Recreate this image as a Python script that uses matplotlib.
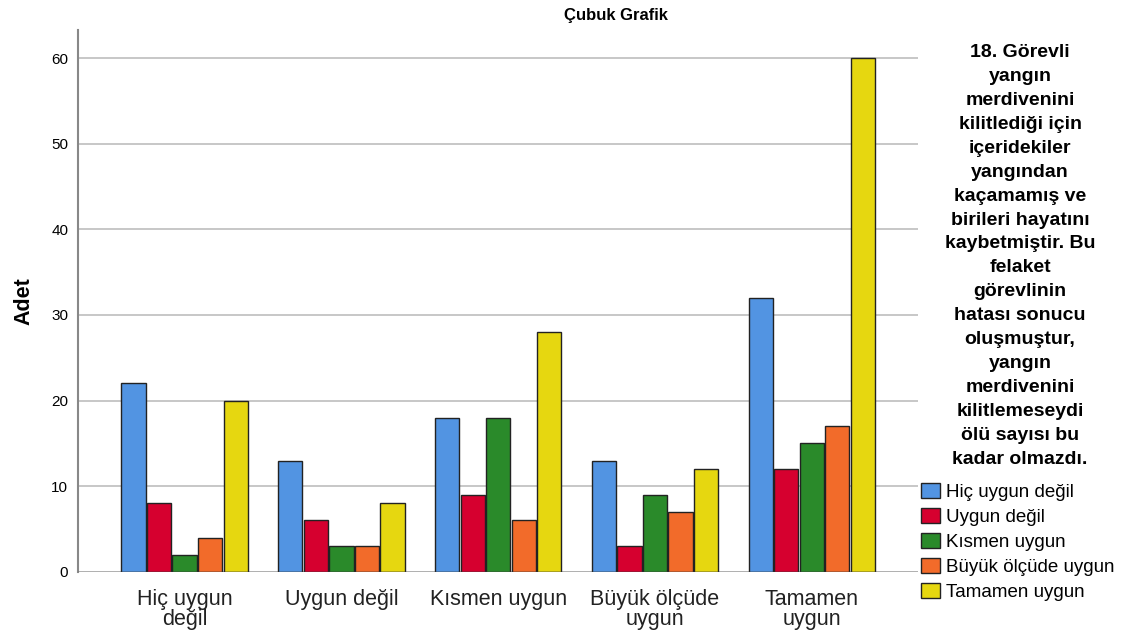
import numpy as np
import matplotlib.pyplot as plt

plt.rcParams['font.family'] = ['Liberation Sans', 'DejaVu Sans']

categories = ['Hiç uygun\ndeğil', 'Uygun değil', 'Kısmen uygun', 'Büyük ölçüde\nuygun', 'Tamamen\nuygun']
series_names = ['Hiç uygun değil', 'Uygun değil', 'Kısmen uygun', 'Büyük ölçüde uygun', 'Tamamen uygun']
values = [
    [22, 13, 18, 13, 32],   # Hiç uygun değil
    [8, 6, 9, 3, 12],       # Uygun değil
    [2, 3, 18, 9, 15],      # Kısmen uygun
    [4, 3, 6, 7, 17],       # Büyük ölçüde uygun
    [20, 8, 28, 12, 60],    # Tamamen uygun
]
colors = ['#5294e2', '#d6002f', '#2a8a2a', '#f26b2a', '#e6d710']
legend_title = ('18. Görevli\nyangın\nmerdivenini\nkilitlediği için\niçeridekiler\nyangından\n'
                'kaçamamış ve\nbirileri hayatını\nkaybetmiştir. Bu\nfelaket\ngörevlinin\n'
                'hatası sonucu\noluşmuştur,\nyangın\nmerdivenini\nkilitlemeseydi\nölü sayısı bu\n'
                'kadar olmazdı.')

fig = plt.figure(figsize=(11.31, 6.34), dpi=100)
ax = fig.add_axes([0.069, 0.098, 0.743, 0.855])

x = np.arange(len(categories))
step = 0.163
width = 0.155
for i, (name, vals) in enumerate(zip(series_names, values)):
    ax.bar(x + (i - 2) * step, vals, width, color=colors[i], edgecolor='#222222',
           linewidth=1, label=name, zorder=3)

ax.set_xlim(-0.68, 4.68)
ax.set_ylim(0, 63.3)
ax.set_yticks([0, 10, 20, 30, 40, 50, 60])
ax.yaxis.grid(True, color='#bdbdbd', linewidth=1.2, zorder=0)
ax.set_xticks(x)
ax.set_xticklabels(categories, fontsize=15.5, color='#222222', linespacing=0.95)
ax.tick_params(axis='x', length=0, pad=12)
ax.tick_params(axis='y', length=0, labelsize=11, pad=7)
for s in ['top', 'right', 'bottom']:
    ax.spines[s].set_visible(False)
ax.spines['left'].set_color('#888888')
ax.spines['left'].set_linewidth(1.5)
ax.axhline(0, color='#555555', linewidth=1, zorder=4)

ax.set_ylabel('Adet', fontsize=15.5, fontweight='bold', labelpad=12)
fig.text(0.545, 0.975, 'Çubuk Grafik', ha='center', va='center', fontsize=12,
         fontweight='bold')

fig.text(0.902, 0.93, legend_title, ha='center', va='top', fontsize=14,
         fontweight='bold', linespacing=1.53)

fig.legend(loc='upper left', bbox_to_anchor=(0.808, 0.25), frameon=False,
           fontsize=13.5, handlelength=1.0, handleheight=0.85, handletextpad=0.3,
           labelspacing=0.37, borderaxespad=0)

fig.savefig('out.png', dpi=100)
